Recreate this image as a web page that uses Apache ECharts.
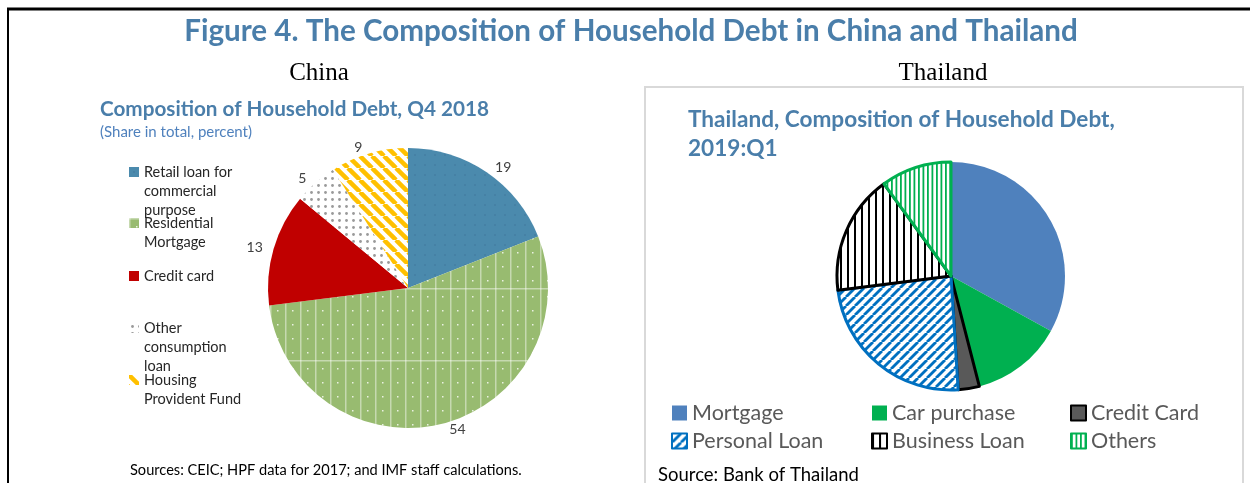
<!DOCTYPE html>
<html>
<head>
<meta charset="utf-8">
<script src="https://cdn.jsdelivr.net/npm/echarts@6/dist/echarts.min.js"></script>
<style>
    html, body { margin: 0; padding: 0; background: #fff; }
    #grafico { width: 1250px; height: 483px; }
</style>
</head>
<body>
<div id="grafico"></div>
<script>
// dados - China, Q4 2018 (percent)
const chinaNames = ['Retail loan for commercial purpose', 'Residential Mortgage', 'Credit card', 'Other consumption loan', 'Housing Provident Fund'];
const chinaLegendLines = [['Retail loan for', 'commercial', 'purpose'], ['Residential', 'Mortgage'], ['Credit card'], ['Other', 'consumption', 'loan'], ['Housing', 'Provident Fund']];
const chinaValues = [19, 54, 13, 5, 9];

// dados - Thailand, 2019:Q1
const thaiNames = ['Mortgage', 'Car purchase', 'Credit Card', 'Personal Loan', 'Business Loan', 'Others'];
const thaiValues = [33, 13, 3, 24, 17, 10];
const thaiLegendColumns = [['Mortgage', 'Personal Loan'], ['Car purchase', 'Business Loan'], ['Credit Card', 'Others']];

// cria um padrão (hachura) num canvas pequeno
function makeTile(w, h, draw) {
    const c = document.createElement('canvas');
    c.width = w;
    c.height = h;
    draw(c.getContext('2d'), w, h);
    return { image: c, repeat: 'repeat' };
}

function diagonal(ctx, w, h, color, lw, dir) {
    ctx.fillStyle = '#fff';
    ctx.fillRect(0, 0, w, h);
    ctx.strokeStyle = color;
    ctx.lineWidth = lw;
    for (const k of [-1, 0, 1]) {
        ctx.beginPath();
        if (dir === 'down') {
            ctx.moveTo(k * w, 0);
            ctx.lineTo(k * w + w, h);
        } else {
            ctx.moveTo(k * w, h);
            ctx.lineTo(k * w + w, 0);
        }
        ctx.stroke();
    }
}

const retailFill = makeTile(10, 10, (ctx, w, h) => {
    ctx.fillStyle = '#4B8AAD';
    ctx.fillRect(0, 0, w, h);
    ctx.fillStyle = '#4681A5';
    ctx.fillRect(4, 4, 2, 2);
});
const mortgageFill = makeTile(15, 72, (ctx, w, h) => {
    ctx.fillStyle = '#98BB70';
    ctx.fillRect(0, 0, w, h);
    ctx.fillStyle = 'rgba(255,255,255,0.45)';
    ctx.fillRect(0, 0, 1.5, h);
    ctx.fillRect(0, 0, w, 1.5);
    ctx.fillStyle = 'rgba(255,255,255,0.8)';
    for (let y = 8; y < h; y += 14) ctx.fillRect(7, y, 1.5, 1.5);
});
const otherFill = makeTile(7, 7, (ctx, w, h) => {
    ctx.fillStyle = '#fff';
    ctx.fillRect(0, 0, w, h);
    ctx.fillStyle = '#9A9A9A';
    ctx.beginPath();
    ctx.arc(3.5, 3.5, 1.4, 0, Math.PI * 2);
    ctx.fill();
});
const hpfFill = makeTile(12, 12, (ctx, w, h) => diagonal(ctx, w, h, '#FFC000', 4.5, 'down'));
const personalFill = makeTile(9, 9, (ctx, w, h) => diagonal(ctx, w, h, '#0070C0', 2.8, 'up'));
const businessFill = makeTile(7, 4, (ctx, w, h) => {
    ctx.fillStyle = '#fff';
    ctx.fillRect(0, 0, w, h);
    ctx.fillStyle = '#000';
    ctx.fillRect(0, 0, 2, h);
});
const othersFill = makeTile(9, 4, (ctx, w, h) => {
    ctx.fillStyle = '#fff';
    ctx.fillRect(0, 0, w, h);
    ctx.fillStyle = '#00B050';
    ctx.fillRect(0, 0, 1.8, h);
    ctx.fillRect(4.5, 0, 1.8, h);
});

const chinaStyles = [
    { color: retailFill },
    { color: mortgageFill },
    { color: '#C00000' },
    { color: otherFill },
    { color: hpfFill }
];
const thaiStyles = [
    { color: '#4F81BD' },
    { color: '#00B050' },
    { color: '#595959', borderColor: '#000', borderWidth: 3 },
    { color: personalFill, borderColor: '#0070C0', borderWidth: 3 },
    { color: businessFill, borderColor: '#000', borderWidth: 3 },
    { color: othersFill, borderColor: '#00B050', borderWidth: 3 }
];

function renderGrafico() {
    const chartDom = document.getElementById('grafico');
    const myChart = echarts.init(chartDom);
    const blueTitle = '#4A7EAA';

    // legenda da China: um componente por item, ícone alinhado à primeira linha
    const chinaFirstLineY = [172, 223, 276, 328, 380];
    const lh = 19;
    const chinaLegends = chinaNames.map((name, i) => {
        const n = chinaLegendLines[i].length;
        const pad = '\n'.repeat(n - 1);
        return {
            data: [name],
            orient: 'vertical',
            left: 129,
            top: chinaFirstLineY[i] - (2 * n - 1) * lh / 2,
            padding: 0,
            itemWidth: 10,
            itemHeight: 10,
            icon: 'rect',
            selectedMode: false,
            formatter: () => pad + chinaLegendLines[i].join('\n'),
            textStyle: { fontFamily: 'Lato', fontSize: 14.5, color: '#262626', lineHeight: lh }
        };
    });

    const thaiLegendLeft = [671, 871, 1070];
    const thaiLegends = thaiLegendColumns.map((col, i) => ({
        data: col,
        orient: 'vertical',
        left: thaiLegendLeft[i],
        top: 402,
        padding: 0,
        itemGap: 6,
        itemWidth: 15,
        itemHeight: 15,
        icon: 'rect',
        selectedMode: false,
        textStyle: { fontFamily: 'Lato', fontSize: 21.5, color: '#595959', lineHeight: 22 }
    }));

    const option = {
        animation: false,
        title: [
            {
                text: 'Figure 4. The Composition of Household Debt in China and Thailand',
                left: 631, top: 16, textAlign: 'center', padding: 0,
                textStyle: { fontFamily: 'Lato', fontWeight: 'bold', fontSize: 29.6, color: blueTitle }
            },
            {
                text: 'China', left: 319, top: 61, textAlign: 'center', padding: 0,
                textStyle: { fontFamily: 'Liberation Serif', fontWeight: 'normal', fontSize: 25, color: '#000' }
            },
            {
                text: 'Thailand', left: 943, top: 61, textAlign: 'center', padding: 0,
                textStyle: { fontFamily: 'Liberation Serif', fontWeight: 'normal', fontSize: 25, color: '#000' }
            },
            {
                text: 'Composition of Household Debt, Q4 2018', left: 100, top: 99, padding: 0,
                textStyle: { fontFamily: 'Lato', fontWeight: 'bold', fontSize: 20.7, color: blueTitle },
                subtext: '(Share in total, percent)', itemGap: 5,
                subtextStyle: { fontFamily: 'Lato', fontSize: 15, color: '#4F81BD' }
            },
            {
                text: 'Thailand, Composition of Household Debt,\n2019:Q1', left: 688, top: 105, padding: 0,
                textStyle: { fontFamily: 'Lato', fontWeight: 'bold', fontSize: 22.6, lineHeight: 29, color: blueTitle }
            },
            {
                text: 'Sources: CEIC; HPF data for 2017; and IMF staff calculations.', left: 130, top: 463, padding: 0,
                textStyle: { fontFamily: 'Lato', fontWeight: 'normal', fontSize: 14.6, color: '#000' }
            },
            {
                text: 'Source: Bank of Thailand', left: 658, top: 466, padding: 0,
                textStyle: { fontFamily: 'Lato', fontWeight: 'normal', fontSize: 18.5, color: '#000' }
            }
        ],
        legend: chinaLegends.concat(thaiLegends),
        graphic: [
            // moldura da figura
            { type: 'line', shape: { x1: 7, y1: 9, x2: 1250, y2: 9 }, style: { stroke: '#000', lineWidth: 3 } },
            { type: 'line', shape: { x1: 8, y1: 8, x2: 8, y2: 483 }, style: { stroke: '#000', lineWidth: 2 } },
            // caixa do painel da Tailândia
            { type: 'rect', shape: { x: 645, y: 87, width: 598, height: 420 }, style: { fill: 'none', stroke: '#D9D9D9', lineWidth: 2 } }
        ],
        series: [
            {
                name: 'China',
                type: 'pie',
                center: [408, 288],
                radius: 140,
                startAngle: 90,
                clockwise: true,
                avoidLabelOverlap: false,
                emphasis: { disabled: true },
                label: {
                    position: 'outside',
                    formatter: '{c}',
                    fontFamily: 'Lato',
                    fontSize: 14,
                    color: '#404040'
                },
                labelLine: { show: false, length: 6, length2: 0 },
                data: chinaNames.map((name, i) => ({ name: name, value: chinaValues[i], itemStyle: chinaStyles[i] }))
            },
            {
                name: 'Thailand',
                type: 'pie',
                center: [951, 276],
                radius: 114,
                startAngle: 90,
                clockwise: true,
                emphasis: { disabled: true },
                label: { show: false },
                labelLine: { show: false },
                data: thaiNames.map((name, i) => ({ name: name, value: thaiValues[i], itemStyle: thaiStyles[i] }))
            }
        ]
    };
    myChart.setOption(option);
}

document.addEventListener('DOMContentLoaded', () => {
    renderGrafico();
});
</script>
</body>
</html>
